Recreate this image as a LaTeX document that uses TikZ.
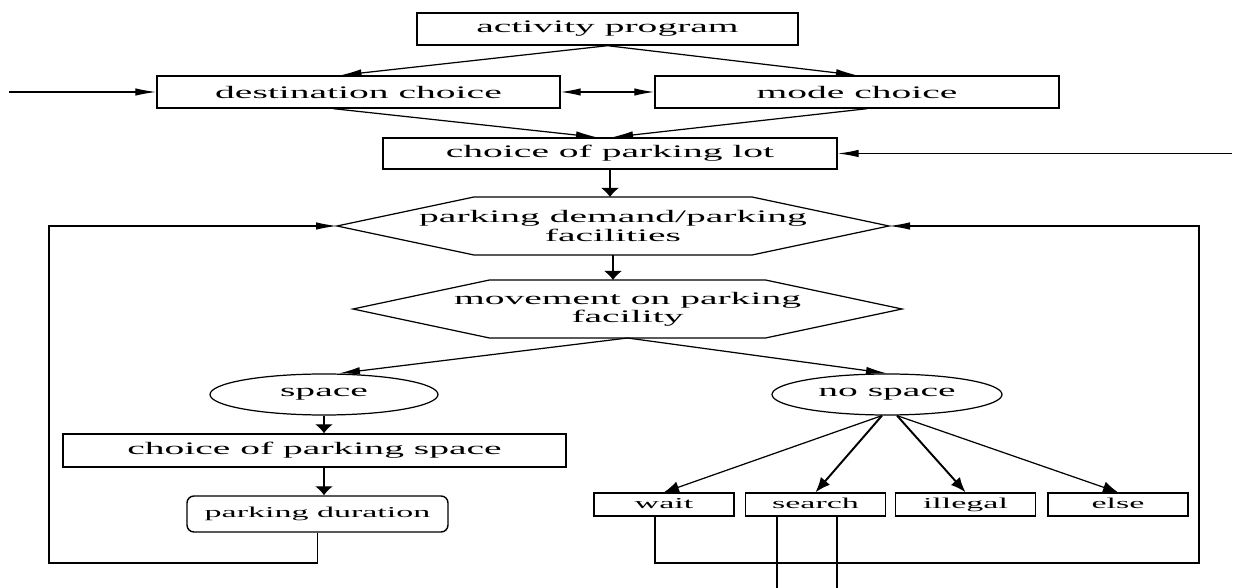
\documentclass[tikz,border=0pt]{standalone}
\usepackage{fontspec}
\setmainfont{Liberation Serif}[FakeStretch=2.25]
\usetikzlibrary{arrows.meta,positioning,shapes.geometric,calc}
\newcommand{\lblfont}{\fontsize{10}{10.4}\selectfont}
\newcommand{\smallfont}{\fontsize{8.6}{9}\selectfont}
\tikzset{
  box/.style={draw,line width=0.8pt,inner sep=0pt,font=\lblfont},
  smallbox/.style={box,minimum width=2.8cm,minimum height=0.46cm,font=\smallfont,
                   text height=1.5ex,text depth=0.45ex},
  roundbox/.style={box,rounded corners=1.4mm,font=\smallfont},
  ovalbox/.style={ellipse,draw,line width=0.7pt,inner sep=0pt,font=\lblfont},
  hexnode/.style={inner sep=0pt,outer sep=0pt,align=center,font=\lblfont},
  ln/.style={line width=0.7pt},
  harrow/.style={ln,-{Latex[length=4.2mm,width=1.5mm]}},
  varrow/.style={ln,-{Latex[length=1.8mm,width=3.6mm]}},
  darrow/.style={ln,-{Latex[length=3mm,width=2.4mm]}},
  dblarrow/.style={ln,{Latex[length=4mm,width=1.5mm]}-{Latex[length=4mm,width=1.5mm]}},
}
\newcommand{\hexframe}[2]{\draw[line width=0.7pt] (#1.west) -- ([xshift=#2]#1.north west) -- ([xshift=-#2]#1.north east) -- (#1.east) -- ([xshift=-#2]#1.south east) -- ([xshift=#2]#1.south west) -- cycle;}

\begin{document}
\begin{tikzpicture}
    \useasboundingbox (0,0) rectangle (24.68,-11.76);
    \node[box,minimum width=7.62cm,minimum height=0.64cm] (act) at (12.15,-0.58) {activity program};
    \node[box,minimum width=8.06cm,minimum height=0.64cm] (dest) at (7.17,-1.84) {destination choice};
    \node[box,minimum width=8.08cm,minimum height=0.64cm] (mode) at (17.14,-1.84) {mode choice};
    \node[box,minimum width=9.08cm,minimum height=0.62cm] (lot) at (12.2,-3.07) {choice of parking lot};
    \node[hexnode,minimum width=11.04cm,minimum height=1.16cm] (demand) at (12.26,-4.52) {parking demand/parking\\facilities};
    \node[hexnode,minimum width=10.98cm,minimum height=1.16cm] (move) at (12.55,-6.18) {movement on parking\\facility};
    \hexframe{demand}{2.74cm}
    \hexframe{move}{2.73cm}
    \node[ovalbox,minimum width=4.56cm,minimum height=0.82cm] (space) at (6.48,-7.89) {space};
    \node[ovalbox,minimum width=4.6cm,minimum height=0.82cm] (nospace) at (17.74,-7.89) {no space};
    \node[box,minimum width=10.06cm,minimum height=0.66cm] (cps) at (6.29,-9.01) {choice of parking space};
    \node[roundbox,minimum width=5.22cm,minimum height=0.72cm] (dur) at (6.35,-10.28) {parking duration};
    \node[smallbox] (wait) at (13.28,-10.09) {wait};
    \node[smallbox] (search) at (16.31,-10.09) {search};
    \node[smallbox] (illegal) at (19.31,-10.09) {illegal};
    \node[smallbox] (other) at (22.36,-10.09) {else};

    % inputs from outside
    \coordinate (inL) at (0.18,-1.84);
    \coordinate (inR) at (24.64,-3.07);
    \draw[harrow] (inL) -- (dest);
    \draw[harrow] (inR) -- (lot);

    \draw[harrow] (act.south) -- ([xshift=-3.6mm]dest.north);
    \draw[harrow] (act.south) -- (mode.north);
    \draw[dblarrow] (dest) -- (mode);
    \draw[harrow] ([xshift=-5mm]dest.south) -- ([xshift=-2.6mm]lot.north);
    \draw[harrow] ([xshift=2mm]mode.south) -- ([xshift=0.4mm]lot.north);
    \draw[varrow] (lot.south) -- (lot.south |- demand.north);
    \draw[varrow] (demand.south) -- (demand.south |- move.north);
    \draw[harrow] (move.south) -- ([xshift=3mm]space.north);
    \draw[harrow] (move.south) -- (nospace.north);
    \draw[varrow] (space.south) -- (space.south |- cps.north);
    \draw[varrow] (space.south |- cps.south) -- (space.south |- dur.north);
    \draw[darrow] ([xshift=-1mm]nospace.south) -- (wait.north);
    \draw[darrow,line width=1.1pt] ([xshift=-1mm]nospace.south) -- (search.north);
    \draw[darrow,line width=1.1pt] ([xshift=2mm]nospace.south) -- (illegal.north);
    \draw[darrow] ([xshift=2mm]nospace.south) -- (other.north);

    % feedback loops
    \coordinate (loopL) at (0.98,-11.26);
    \coordinate (loopR) at (23.98,-11.26);
    \draw[harrow] (dur.south) -- (dur.south |- loopL) -- (loopL) -- (loopL |- demand.west) -- (demand.west);
    \draw[harrow] ([xshift=-1.8mm]wait.south) -- ([xshift=-1.8mm]wait.south |- loopR) -- (loopR) -- (loopR |- demand.east) -- (demand.east);
    \coordinate (sl) at (15.54,-11.76);
    \coordinate (sr) at (16.74,-11.76);
    \draw[ln] (search.south -| sl) -- (sl);
    \draw[ln] (search.south -| sr) -- (sr);
\end{tikzpicture}
\end{document}
